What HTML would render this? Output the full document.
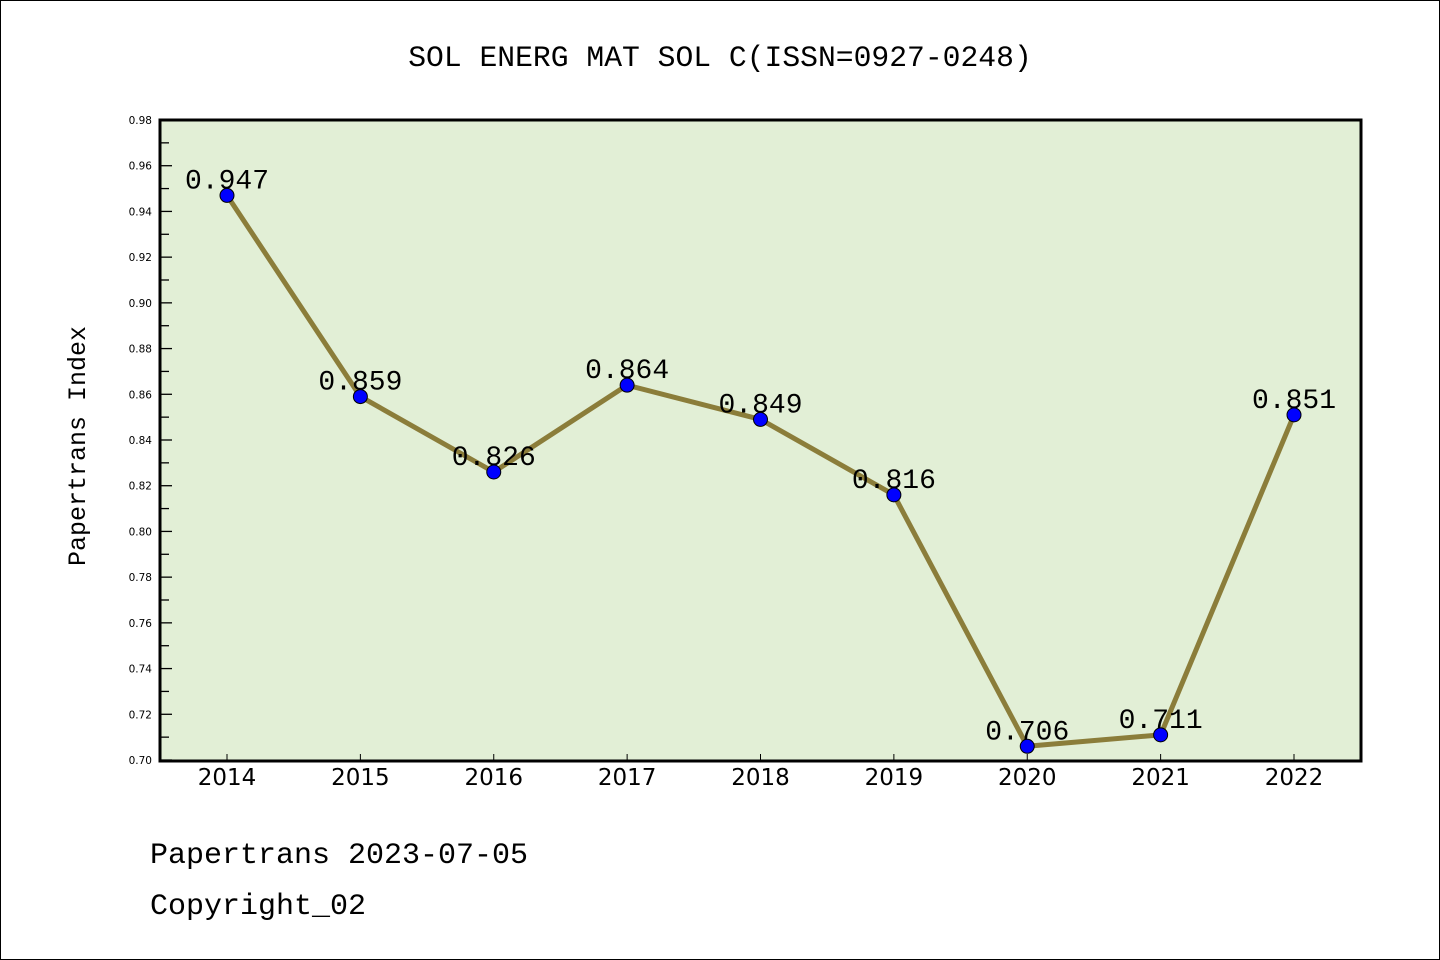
<!DOCTYPE html>
<html><head><meta charset="utf-8"><style>
html,body{margin:0;padding:0;background:#fff;}
svg{display:block;}
</style></head><body>
<svg id="chart" width="1440" height="960" xmlns="http://www.w3.org/2000/svg">
<rect x="0.5" y="0.5" width="1439" height="959" fill="#fff" stroke="#000" stroke-width="1"/>
<text x="720" y="66" text-anchor="middle" font-family="'Liberation Mono',monospace" font-size="29.7">SOL ENERG MAT SOL C(ISSN=0927-0248)</text>
<rect x="160" y="120" width="1201" height="641" fill="#e2efd6"/>
<g id="yticks"></g><g id="xticks"></g>
<g id="series"></g>
<rect x="160" y="120" width="1201" height="641" fill="none" stroke="#000" stroke-width="3"/>
<text transform="translate(85,446) rotate(-90)" text-anchor="middle" font-family="'Liberation Mono',monospace" font-size="25">Papertrans Index</text>
<text x="150" y="863" font-family="'Liberation Mono',monospace" font-size="30">Papertrans 2023-07-05</text>
<text x="150" y="914" font-family="'Liberation Mono',monospace" font-size="30">Copyright_02</text>
</svg>
<script>
const years=["2014","2015","2016","2017","2018","2019","2020","2021","2022"];
const values=[0.947,0.859,0.826,0.864,0.849,0.816,0.706,0.711,0.851];
const yTicks=[0.70,0.72,0.74,0.76,0.78,0.80,0.82,0.84,0.86,0.88,0.90,0.92,0.94,0.96,0.98];
const yMin=0.70,yMax=0.98;
const NS="http://www.w3.org/2000/svg";
function X(i){return 227+i*(1294-227)/(years.length-1);}
function Y(v){return 760-(v-yMin)/(yMax-yMin)*640;}
function mk(tag,attrs,parent){const e=document.createElementNS(NS,tag);for(const k in attrs)e.setAttribute(k,attrs[k]);parent.appendChild(e);return e;}
const yt=document.getElementById('yticks'),xt=document.getElementById('xticks'),sg=document.getElementById('series');
yTicks.forEach((t,i)=>{
  const y=Y(t);
  const l=mk('line',{x1:160,x2:172,y1:y,y2:y,stroke:'#000','stroke-width':1.3},yt);
  
  
  const tx=mk('text',{x:152,y:y+4,'text-anchor':'end','font-family':'DejaVu Sans,sans-serif','font-size':10.5},yt);
  tx.textContent=t.toFixed(2);
  
  
  if(i<yTicks.length-1){
    const ym=Y(t+0.01);
    const m=mk('line',{x1:160,x2:169,y1:ym,y2:ym,stroke:'#000','stroke-width':1.3},yt);
    
    
  }
});
years.forEach((yr,i)=>{
  const x=X(i);
  const l=mk('line',{x1:x,x2:x,y1:754,y2:760,stroke:'#000','stroke-width':1},xt);
  
  
  const tx=mk('text',{x:x,y:785,'text-anchor':'middle','font-family':'DejaVu Sans,sans-serif','font-size':23},xt);
  tx.textContent=yr;
  
  
});
const pts=values.map((v,i)=>X(i)+','+Y(v)).join(' ');
const pl=mk('polyline',{points:pts,fill:'none',stroke:'#8b7d3a','stroke-width':5,'stroke-linejoin':'round'},sg);


values.forEach((v,i)=>{
  const c=mk('circle',{cx:X(i),cy:Y(v),r:7,fill:'#0000ff',stroke:'#000','stroke-width':1},sg);
  
  
});
values.forEach((v,i)=>{
  const t=mk('text',{x:X(i),y:Y(v)-7,'text-anchor':'middle','font-family':"'Liberation Mono',monospace",'font-size':28},sg);
  t.textContent=v.toFixed(3);
  
  
});
</script>
</body></html>
